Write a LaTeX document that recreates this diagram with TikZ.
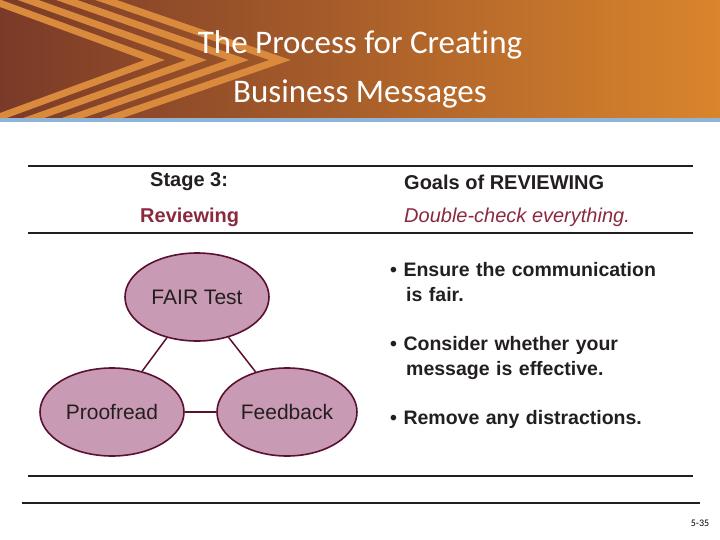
\documentclass[tikz,border=0pt]{standalone}
\usepackage{fontspec}
\setmainfont{Liberation Sans}
\newfontfamily\titlefont[Ligatures={NoCommon}]{Carlito}
\usetikzlibrary{shapes.geometric}
\definecolor{hdrL}{HTML}{7A3A28}
\definecolor{hdrR}{HTML}{DA852C}
\definecolor{stripe}{HTML}{D98A3C}
\definecolor{bluebar}{HTML}{8FB4D8}
\definecolor{ellfill}{HTML}{C99AB4}
\definecolor{elldraw}{HTML}{5A1030}
\definecolor{accent}{HTML}{8A2A3E}
\definecolor{txt}{HTML}{231F20}
\tikzset{
  ell/.style={ellipse,draw=elldraw,line width=1.6pt,fill=ellfill,minimum width=144pt,minimum height=88pt,font=\fontsize{21}{24}\selectfont,text=txt},
  link/.style={draw=elldraw,line width=1.5pt},
  rule/.style={line width=1.3pt,draw=txt},
  lbl/.style={anchor=west,font=\bfseries\fontsize{20}{22}\selectfont,text=txt,inner sep=0},
  bul/.style={anchor=north west,align=left,font=\bfseries\fontsize{19.5}{25}\selectfont,text=txt,inner sep=0,text width=300pt}
}
\begin{document}
\begin{tikzpicture}[x=1pt,y=-1pt]
\useasboundingbox (0,0) rectangle (720,540);
\fill[white] (0,0) rectangle (720,540);
\shade[left color=hdrL,right color=hdrR] (0,0) rectangle (720,118);
\begin{scope}
\clip (0,0) rectangle (720,118);
\foreach \d in {0,22,44,66}{
  \draw[stripe,line width=7pt] (-10,{-40+\d*0.6}) -- ({280-\d*1.9},{60}) -- (-10,{160-\d*0.6});
}
\end{scope}
\fill[bluebar] (0,118) rectangle (720,122);
\node[text=white,font=\titlefont\fontsize{33}{49}\selectfont,align=center] (title) at (360,69) {The Process for Creating\\Business Messages};
\draw[rule] (28,166) -- (693,166);
\draw[rule] (28,233) -- (693,233);
\draw[rule] (28,476) -- (693,476);
\draw[rule] (22,503) -- (700,503);
\node[lbl] (s3) at (150,182) {Stage 3:};
\node[lbl] (goals) at (404,182) {Goals of REVIEWING};
\node[lbl,text=accent] (rev) at (140,217) {Reviewing};
\node[lbl,text=accent,font=\itshape\fontsize{20}{22}\selectfont] (dbl) at (404,217) {Double-check everything.};
\node[ell] (fair) at (197,297) {FAIR Test};
\node[ell] (proof) at (112,412) {Proofread};
\node[ell,minimum width=140pt] (feed) at (287,412) {Feedback};
\draw[link] (fair) -- (proof);
\draw[link] (fair) -- (feed);
\draw[link] (proof) -- (feed);
\node[bul] (b1) at (390,262) {\textbullet\ Ensure the communication\\\hspace*{16pt}is fair.};
\node[bul] (b2) at (390,336) {\textbullet\ Consider whether your\\\hspace*{16pt}message is effective.};
\node[bul] (b3) at (390,410) {\textbullet\ Remove any distractions.};
\node[font=\titlefont\fontsize{10}{12}\selectfont,text=black] (pg) at (700,523) {5-35};
\end{tikzpicture}
\end{document}
